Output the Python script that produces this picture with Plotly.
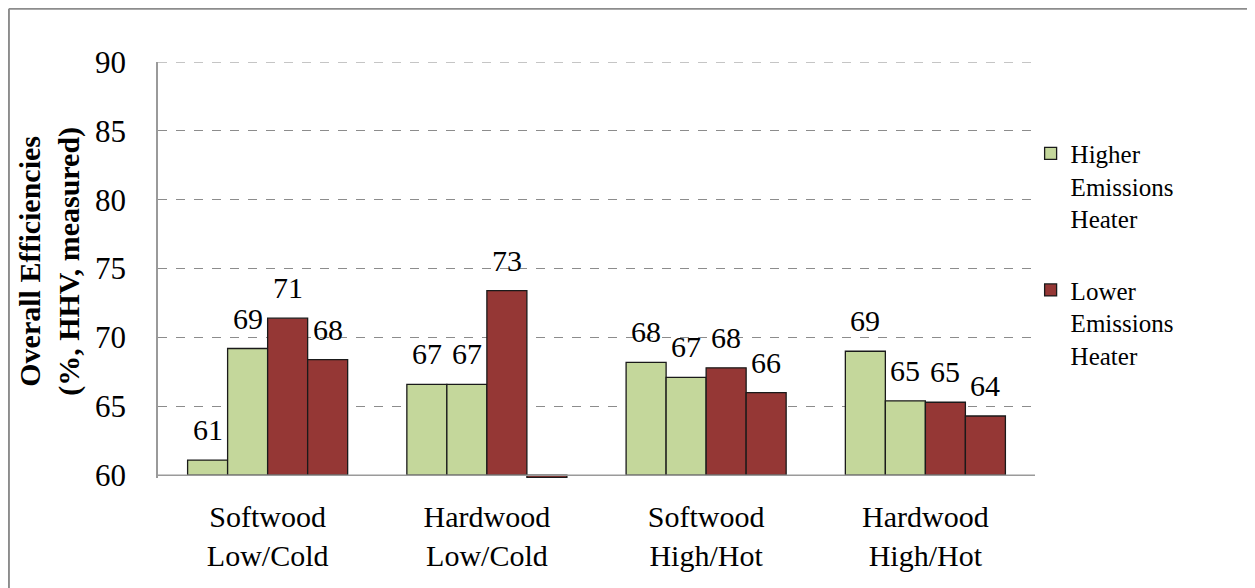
import plotly.graph_objects as go

# data
categories = ["Softwood<br>Low/Cold", "Hardwood<br>Low/Cold", "Softwood<br>High/Hot", "Hardwood<br>High/Hot"]
higher_run1 = [61.1, 66.6, 68.2, 69.0]
higher_run2 = [69.2, 66.6, 67.1, 65.4]
lower_run1 = [71.4, 73.4, 67.8, 65.3]
lower_run2 = [68.4, 59.85, 66.0, 64.3]
y_ticks = [60, 65, 70, 75, 80, 85, 90]

GREEN = "#C4D79B"
RED = "#953735"
FONT = "Liberation Serif, Times New Roman, serif"
AXIS_MIN = 60
AXIS_MAX = 90
BARGAP = 0.27

series = [
    (higher_run1, GREEN, "Higher<br>Emissions<br>Heater", True, "hi"),
    (higher_run2, GREEN, "Higher<br>Emissions<br>Heater", False, "hi"),
    (lower_run1, RED, "Lower<br>Emissions<br>Heater", True, "lo"),
    (lower_run2, RED, "Lower<br>Emissions<br>Heater", False, "lo"),
]

fig = go.Figure()
for vals, color, name, show, grp in series:
    fig.add_trace(go.Bar(
        x=categories,
        y=[v - AXIS_MIN for v in vals],
        base=AXIS_MIN,
        name=name,
        legendgroup=grp,
        showlegend=show,
        marker=dict(color=color, line=dict(color="#1a1a1a", width=1.3)),
        hoverinfo="skip",
    ))

# value labels above each bar
bar_w = (1 - BARGAP) / len(series)
annotations = []
for j, (vals, _, _, _, _) in enumerate(series):
    for i, v in enumerate(vals):
        if v < AXIS_MIN:
            continue
        annotations.append(dict(
            x=i + (j - (len(series) - 1) / 2) * bar_w, y=v, xref="x", yref="y",
            text=str(round(v)), showarrow=False, yanchor="bottom", yshift=12,
            font=dict(family=FONT, size=30, color="black"),
        ))

annotations.append(dict(
    x=-0.123, y=0.52, xref="paper", yref="paper", textangle=-90,
    xanchor="center", yanchor="middle",
    text="<b>Overall Efficiencies<br>(%, HHV, measured)</b>", showarrow=False,
    font=dict(family=FONT, size=30, color="black"),
))

# outer frame of the original figure
frame_x = -0.17
frame_top = 1.128
shapes = [
    dict(type="line", xref="paper", yref="paper", x0=frame_x, x1=frame_x, y0=-0.3, y1=frame_top,
         line=dict(color="#8c8c8c", width=2)),
    dict(type="line", xref="paper", yref="paper", x0=frame_x, x1=1.3, y0=frame_top, y1=frame_top,
         line=dict(color="#8c8c8c", width=2)),
    dict(type="line", xref="paper", yref="y", x0=0, x1=1, y0=AXIS_MIN, y1=AXIS_MIN,
         line=dict(color="#9a9a9a", width=1.5)),
    dict(type="line", xref="paper", yref="y", x0=0, x1=1, y0=AXIS_MAX, y1=AXIS_MAX,
         line=dict(color="#8c8c8c", width=1, dash="dash")),
]

fig.update_layout(
    width=1255, height=588,
    margin=dict(l=150, r=228, t=54, b=118),
    barmode="group", bargap=BARGAP, bargroupgap=0,
    plot_bgcolor="white", paper_bgcolor="white",
    font=dict(family=FONT, color="black"),
    annotations=annotations,
    shapes=shapes,
    legend=dict(
        x=0.995, y=0.835, xanchor="left", yanchor="top",
        font=dict(family=FONT, size=25, color="black"),
        tracegroupgap=36, valign="top",
    ),
)
fig.update_yaxes(
    range=[59.8, AXIS_MAX], tickvals=y_ticks, showline=True, linecolor="#9a9a9a", linewidth=1.5,
    showgrid=True, gridcolor="#8c8c8c", griddash="dash", gridwidth=1, zeroline=False,
    tickfont=dict(family=FONT, size=31, color="black"), ticklabelstandoff=24,
)
fig.update_xaxes(
    showline=False, showgrid=False, ticks="",
    tickfont=dict(family=FONT, size=30, color="black"), ticklabelstandoff=18,
)

fig.write_html("out.html")
